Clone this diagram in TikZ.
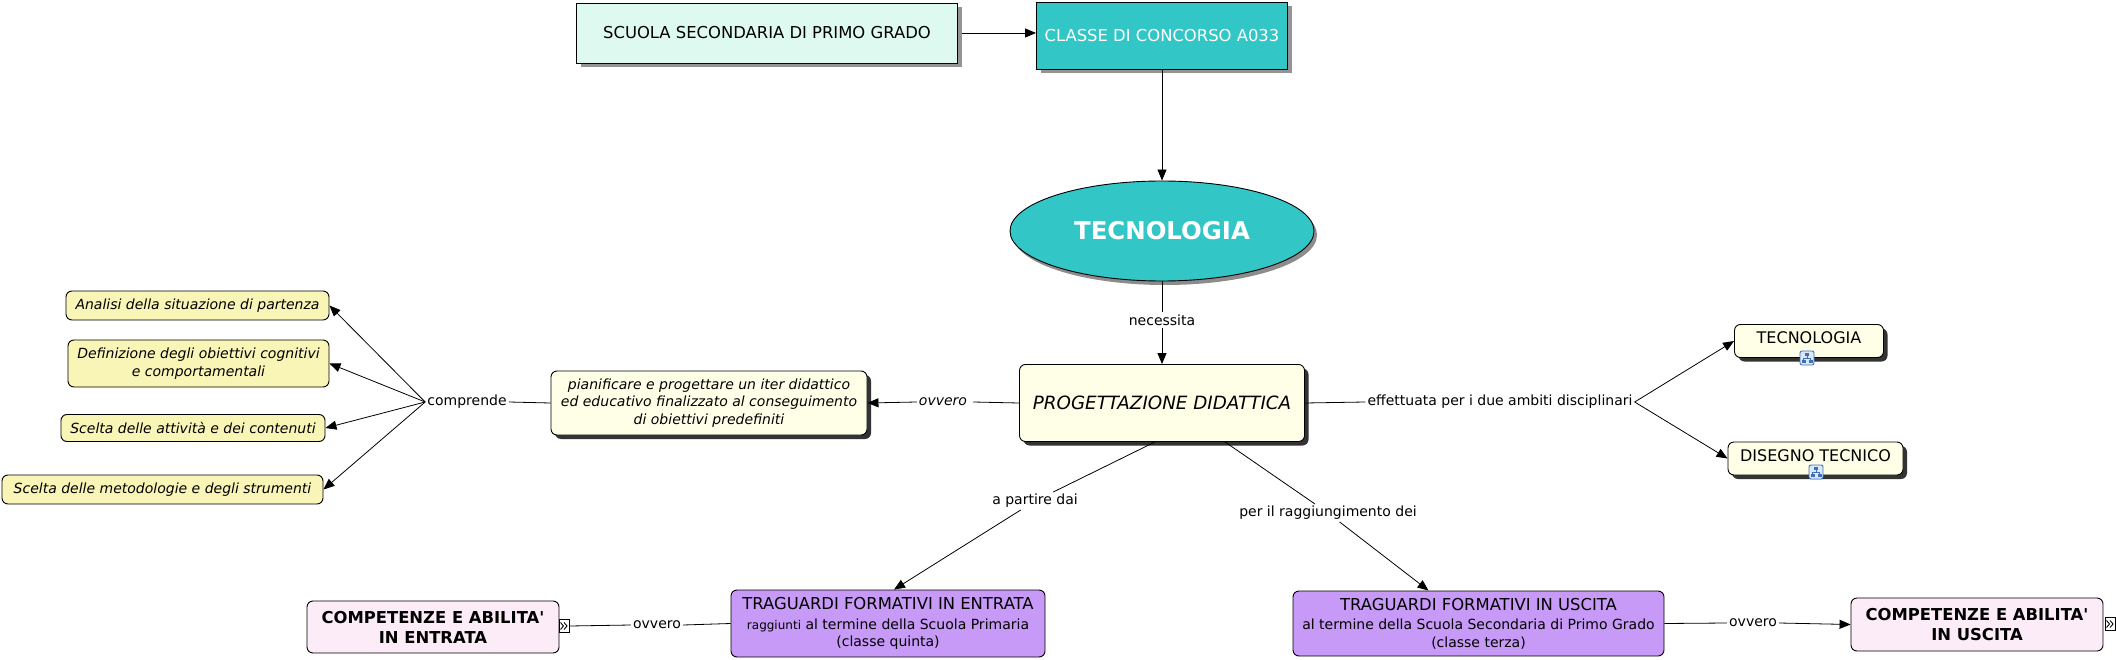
\documentclass[tikz,border=0pt]{standalone}
\usepackage{fontspec}
\setmainfont{DejaVu Sans}
\usetikzlibrary{arrows.meta,shapes.geometric,shadows}
\definecolor{mint}{HTML}{DEFAF0}
\definecolor{teal}{HTML}{33C6C6}
\definecolor{cream}{HTML}{FFFFE8}
\definecolor{yel}{HTML}{F9F5B6}
\definecolor{purp}{HTML}{C89AF8}
\definecolor{pinkb}{HTML}{FCECF7}
\definecolor{iconbg}{HTML}{DCE8FA}
\definecolor{iconbd}{HTML}{3F6FB8}
\begin{document}
\begin{tikzpicture}[x=1pt,y=-1pt,
  base/.style={draw=black, line width=0.9pt, align=center, inner sep=0pt, text=black},
  rbox/.style={base, rounded corners=6pt},
  gshadow/.style={drop shadow={shadow xshift=4pt, shadow yshift=-4pt, fill=black!42, opacity=1}},
  dshadow/.style={drop shadow={shadow xshift=4pt, shadow yshift=-4pt, fill=black!80, opacity=1}},
  fM/.style={font=\fontsize{16.4}{20}\selectfont},
  fS/.style={font=\fontsize{14}{17.5}\selectfont},
  fI/.style={font=\fontsize{14}{17.5}\selectfont\itshape},
  fB/.style={font=\fontsize{16.4}{20}\selectfont\bfseries},
  lbl/.style={font=\fontsize{14}{17}\selectfont, inner sep=2pt},
  ln/.style={line width=0.8pt, draw=black},
  arr/.style={ln, -{Triangle[length=11pt,width=9pt]}},
  gicon/.style={draw=black, fill=white, line width=0.6pt, inner sep=0pt, minimum width=10pt, minimum height=13pt},
  chev/.style={line width=0.9pt, draw=black},
  hicon/.pic={
    \draw[fill=iconbg, draw=iconbd, rounded corners=2pt, line width=0.9pt] (-7,-7) rectangle (7,7);
    \fill[iconbd] (-2,-5) rectangle (2,-2);
    \draw[iconbd, line width=0.7pt] (0,-2) -- (0,0) (-3.5,0) -- (3.5,0) (-3.5,0) -- (-3.5,2) (3.5,0) -- (3.5,2);
    \fill[iconbd] (-5.5,2) rectangle (-1.5,5);
    \fill[iconbd] (1.5,2) rectangle (5.5,5);
  }
]
\useasboundingbox (0,0) rectangle (2116,660);

% top row
\node[base, fill=mint, gshadow, fM, minimum width=381pt, minimum height=60pt] (scuola) at (767,33) {SCUOLA SECONDARIA DI PRIMO GRADO};
\node[base, fill=teal, gshadow, fM, text=white, minimum width=251pt, minimum height=67pt] (classe) at (1162,35.5) {CLASSE DI CONCORSO A033};
\node[base, ellipse, fill=teal, drop shadow={shadow xshift=3pt, shadow yshift=-4pt, fill=black!45, opacity=1}, text=white, font=\fontsize{24.4}{28}\selectfont\bfseries, minimum width=304pt, minimum height=100pt] (tecno) at (1162,231) {TECNOLOGIA};

% centre
\node[rbox, fill=cream, dshadow, font=\fontsize{18.3}{22}\selectfont\itshape, minimum width=285pt, minimum height=77pt] (prog) at (1162,403) {PROGETTAZIONE DIDATTICA};
\node[rbox, fill=cream, dshadow, fI, minimum width=316pt, minimum height=64pt] (pian) at (709,403) {pianificare e progettare un iter didattico\\ed educativo finalizzato al conseguimento\\di obiettivi predefiniti};

% left list
\node[rbox, fill=yel, fI, minimum width=263pt, minimum height=29pt] (analisi) at (197.5,305.5) {Analisi della situazione di partenza};
\node[rbox, fill=yel, fI, minimum width=261pt, minimum height=47pt] (defin) at (198.5,363.5) {Definizione degli obiettivi cognitivi\\e comportamentali};
\node[rbox, fill=yel, fI, minimum width=264pt, minimum height=27pt] (sceltaA) at (193,428) {Scelta delle attività e dei contenuti};
\node[rbox, fill=yel, fI, minimum width=321pt, minimum height=29pt] (sceltaM) at (162.5,489.5) {Scelta delle metodologie e degli strumenti};

% right pair
\node[rbox, fill=cream, dshadow, font=\fontsize{16}{19}\selectfont, minimum width=149pt, minimum height=33pt] (tec2) at (1809,341) {TECNOLOGIA\rule[-6pt]{0pt}{1pt}};
\node[rbox, fill=cream, dshadow, font=\fontsize{16}{19}\selectfont, minimum width=175pt, minimum height=33pt] (dis) at (1815.5,458.5) {DISEGNO TECNICO\rule[-6pt]{0pt}{1pt}};
\pic at (1807,358) {hicon};
\pic at (1816,472) {hicon};

% bottom
\node[rbox, fill=purp, fS, minimum width=314pt, minimum height=67pt] (trE) at (888,623.5) {{\fontsize{16.4}{18}\selectfont TRAGUARDI FORMATIVI IN ENTRATA}\\[2pt]{\fontsize{12}{14}\selectfont raggiunti} al termine della Scuola Primaria\\(classe quinta)};
\node[rbox, fill=purp, fS, minimum width=371pt, minimum height=65pt] (trU) at (1478.5,623.5) {{\fontsize{16.4}{18}\selectfont TRAGUARDI FORMATIVI IN USCITA}\\[2pt]al termine della Scuola Secondaria di Primo Grado\\(classe terza)};
\node[rbox, fill=pinkb, fB, minimum width=252pt, minimum height=52pt] (compE) at (433,627) {COMPETENZE E ABILITA\textquotesingle\\IN ENTRATA};
\node[rbox, fill=pinkb, fB, minimum width=252pt, minimum height=53pt] (compU) at (1977,624.5) {COMPETENZE E ABILITA\textquotesingle\\IN USCITA};
\node[gicon] (iconE) at (564,626) {};
\node[gicon] (iconU) at (2110,624) {};
\draw[chev] ([xshift=-3.5pt,yshift=3.5pt]iconE.center) -- ++(3,3.5) -- ++(-3,3.5)
            ([xshift=0pt,yshift=3.5pt]iconE.center) -- ++(3,3.5) -- ++(-3,3.5);
\draw[chev] ([xshift=-3.5pt,yshift=3.5pt]iconU.center) -- ++(3,3.5) -- ++(-3,3.5)
            ([xshift=0pt,yshift=3.5pt]iconU.center) -- ++(3,3.5) -- ++(-3,3.5);

% link labels
\node[lbl] (lnec) at (1162,320) {necessita};
\node[lbl, font=\fontsize{14}{17}\selectfont\itshape] (lovv1) at (943,402) {ovvero};
\node[lbl] (lcomp) at (467,402) {comprende};
\node[lbl] (leff) at (1500,402) {effettuata per i due ambiti disciplinari};
\node[lbl] (lpart) at (1035,501) {a partire dai};
\node[lbl] (lragg) at (1328,513) {per il raggiungimento dei};
\node[lbl] (lovv2) at (657,625) {ovvero};
\node[lbl] (lovv3) at (1753,623) {ovvero};

% connectors
\draw[arr] (scuola.east) ++(4pt,0) -- (classe.west |- scuola.east);
\draw[arr] (classe.south) -- (tecno.north);
\draw[ln] (tecno.south) -- (lnec.north);
\draw[arr] (lnec.south) -- (prog.north);
\draw[ln] (prog.west) -- ([xshift=4pt]lovv1.east);
\draw[arr] (lovv1.west) -- (pian.east);
\draw[ln] (pian.west) -- (lcomp.east);
\draw[arr] (lcomp.west) -- (analisi.east);
\draw[arr] (lcomp.west) -- (defin.east);
\draw[arr] (lcomp.west) -- (sceltaA.east);
\draw[arr] (lcomp.west) -- (sceltaM.east);
\draw[ln] (prog.east) -- (leff.west);
\draw[arr] (leff.east) -- (tec2.west);
\draw[arr] (leff.east) -- (dis.west);
\draw[ln] ([xshift=-7pt]prog.south) -- (lpart);
\draw[arr] (lpart) -- ([xshift=6pt]trE.north);
\draw[ln] ([xshift=63pt]prog.south) -- (lragg);
\draw[arr] (lragg) -- ([xshift=-50pt]trU.north);
\draw[ln] (trE.west) -- (lovv2.east);
\draw[ln] (lovv2.west) -- (iconE.east);
\draw[ln] (trU.east) -- (lovv3.west);
\draw[arr] (lovv3.east) -- (compU.west);
\end{tikzpicture}
\end{document}
